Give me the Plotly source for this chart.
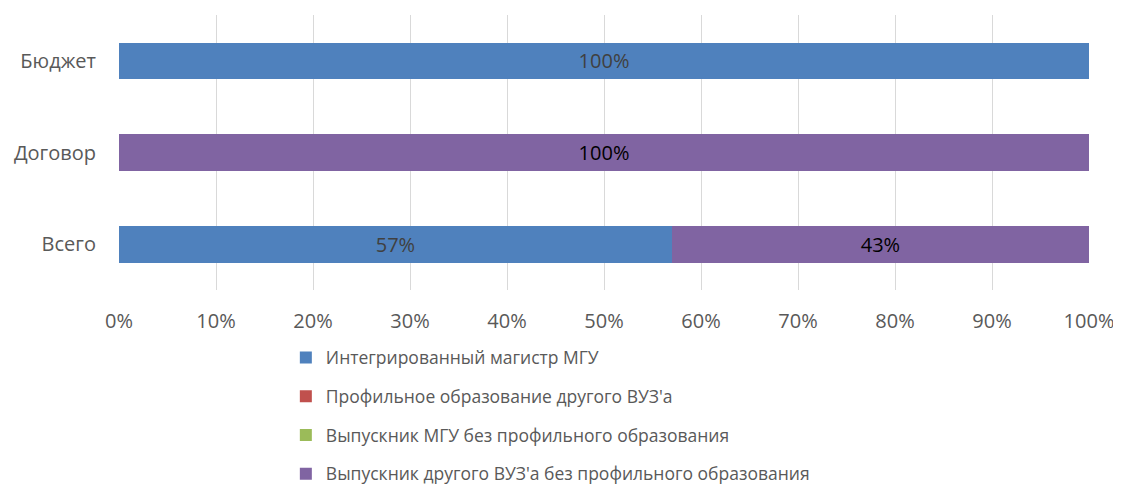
import plotly.graph_objects as go

categories = ["Бюджет", "Договор", "Всего"]
series_names = [
    "Интегрированный магистр МГУ",
    "Профильное образование другого ВУЗ'а",
    "Выпускник МГУ без профильного образования",
    "Выпускник другого ВУЗ'а без профильного образования",
]
integrated_msu = [1.00, 0.00, 0.57]
other_profile = [0.00, 0.00, 0.00]
msu_no_profile = [0.00, 0.00, 0.00]
other_no_profile = [0.00, 1.00, 0.43]
colors = ["#4F81BD", "#C0504D", "#9BBB59", "#8064A2"]
label_colors = ["#404040", "#404040", "#404040", "#000000"]
tick_vals = [i / 10 for i in range(11)]
tick_text = [f"{i*10}%" for i in range(11)]

FONT = "Open Sans"
fig = go.Figure()
for i, (name, vals) in enumerate(zip(series_names,
                                     [integrated_msu, other_profile, msu_no_profile, other_no_profile])):
    fig.add_trace(go.Bar(
        y=categories, x=vals, name=name, orientation="h",
        marker=dict(color=colors[i], line=dict(width=0)),
        text=[f"{round(v*100)}%" if v > 0 else "" for v in vals],
        textposition="inside", insidetextanchor="middle",
        textfont=dict(family=FONT, size=20, color=label_colors[i]),
        legendgroup=f"g{i}",
        hoverinfo="x+name",
    ))

fig.update_layout(
    barmode="stack",
    bargap=0.6,
    width=1113, height=483,
    margin=dict(l=111, r=32, t=7, b=201, autoexpand=False),
    paper_bgcolor="white", plot_bgcolor="white",
    font=dict(family=FONT, size=20, color="#595959"),
    showlegend=True,
    legend=dict(
        orientation="v", x=0.172, xanchor="left", y=-0.18, yanchor="top",
        font=dict(family=FONT, size=17.5, color="#595959"),
        tracegroupgap=13, itemwidth=30, traceorder="grouped",
    ),
    xaxis=dict(
        range=[0, 1], tickvals=tick_vals, ticktext=tick_text,
        showgrid=True, gridcolor="#D9D9D9", gridwidth=1,
        zeroline=False, showline=False, ticks="", ticklabelstandoff=17,
        tickfont=dict(family=FONT, size=20, color="#595959"),
    ),
    yaxis=dict(
        autorange="reversed", showgrid=False, zeroline=False, showline=False,
        ticks="", ticklabelstandoff=22,
        tickfont=dict(family=FONT, size=20, color="#595959"),
    ),
)
fig.write_html("out.html")
